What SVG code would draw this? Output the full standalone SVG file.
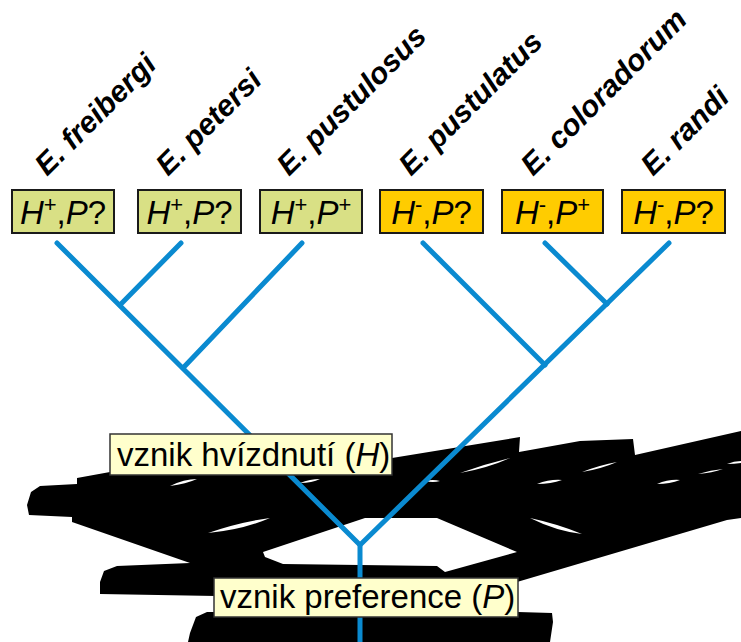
<svg xmlns="http://www.w3.org/2000/svg" width="741" height="642" viewBox="0 0 741 642">
<style>
.sp{font-family:"Liberation Sans",Arial,sans-serif;font-weight:bold;font-style:italic;font-size:30px;fill:#000}
.bx{stroke:#1a1a1a;stroke-width:2}
.g{fill:#D9E085}
.o{fill:#FFCC00}
.bt{font-family:"Liberation Sans",Arial,sans-serif;font-size:33px;fill:#000;text-anchor:middle}
.it{font-style:italic}
.br{fill:none;stroke:#0A8AD0;stroke-width:5;stroke-linecap:round;stroke-linejoin:round}
.lb{fill:#FFFFCC;stroke:#333;stroke-width:1.5}
.lt{font-family:"Liberation Sans",Arial,sans-serif;font-size:33px;fill:#000}
.hole{fill:#fff}
</style>
<rect width="741" height="642" fill="#fff"/>
<g id="background">
<path d="M77,478 L110,472 L392,470 L392,458 L520,437 L519,452 L580,441 L633,439 L635,455 L741,431 L741,518 L727,520 L517,582 L517,590 L518,612 L552,613 L553,622 L550,642 L188,642 L190,633 L196,617 L207,612 L216,612 L216,596 L100,594 L100,582 L104,571 L117,566 L190,563 L72,522 L72,517 L29,515 L27,505 L31,492 L40,486 L77,484 Z" fill="#000"/>
<path class="hole" d="M263,552 L365,518 L437,518 L517,552 L445,572 L437,566 L283,564 L265,557 Z"/>
<path class="hole" d="M170,486 Q184,479 197,479 Q186,484 170,486 Z"/>
<path class="hole" d="M208,533 Q240,522 270,518 Q242,530 208,533 Z"/>
<path class="hole" d="M300,483 Q310,479 320,479 Q312,483 300,483 Z"/>
<path class="hole" d="M425,481 Q433,479 440,481 Q433,483 425,481 Z"/>
<path class="hole" d="M460,473 Q485,464 510,458 Q488,468 460,473 Z"/>
<path class="hole" d="M537,484 Q550,479 562,480 Q551,484 537,484 Z"/>
<path class="hole" d="M582,472 Q600,465 617,462 Q601,469 582,472 Z"/>
<path class="hole" d="M657,484 Q669,479 680,480 Q670,484 657,484 Z"/>
<path class="hole" d="M698,474 Q711,470 723,469 Q712,473 698,474 Z"/>
<path class="hole" d="M727,464 Q734,461 741,461 L741,463 Q734,464 727,464 Z"/>
<path class="hole" d="M530,518 Q558,524 582,534 Q556,531 530,518 Z"/>
</g>
<g id="connectors">
<path class="br" d="M57,243 L360,545 L360,642"/>
<path class="br" d="M181,243 L120,305"/>
<path class="br" d="M302,243 L183,368"/>
<path class="br" d="M669,243 L360,545"/>
<path class="br" d="M423,243 L545,365"/>
<path class="br" d="M545,243 L607,304"/>
</g>
<g id="n1">
<rect class="bx g" x="12" y="190" width="102" height="43"/>
<text class="bt" x="63" y="224"><tspan class="it">H</tspan><tspan dy="-12" font-size="22">+</tspan><tspan dy="12">,</tspan><tspan class="it">P</tspan>?</text>
<text class="sp" x="47" y="177" transform="rotate(-45 47 177)">E. freibergi</text>
</g>
<g id="n2">
<rect class="bx g" x="138" y="190" width="103" height="43"/>
<text class="bt" x="189.5" y="224"><tspan class="it">H</tspan><tspan dy="-12" font-size="22">+</tspan><tspan dy="12">,</tspan><tspan class="it">P</tspan>?</text>
<text class="sp" x="168" y="177" transform="rotate(-45 168 177)">E. petersi</text>
</g>
<g id="n3">
<rect class="bx g" x="260" y="190" width="102" height="43"/>
<text class="bt" x="311" y="224"><tspan class="it">H</tspan><tspan dy="-12" font-size="22">+</tspan><tspan dy="12">,</tspan><tspan class="it">P</tspan><tspan dy="-12" font-size="22">+</tspan></text>
<text class="sp" x="289" y="177" transform="rotate(-45 289 177)">E. pustulosus</text>
</g>
<g id="n4">
<rect class="bx o" x="380" y="190" width="103" height="43"/>
<text class="bt" x="431.5" y="224"><tspan class="it">H</tspan><tspan dy="-12" font-size="22">-</tspan><tspan dy="12">,</tspan><tspan class="it">P</tspan>?</text>
<text class="sp" x="411" y="177" transform="rotate(-45 411 177)">E. pustulatus</text>
</g>
<g id="n5">
<rect class="bx o" x="502" y="190" width="101" height="43"/>
<text class="bt" x="552.5" y="224"><tspan class="it">H</tspan><tspan dy="-12" font-size="22">-</tspan><tspan dy="12">,</tspan><tspan class="it">P</tspan><tspan dy="-12" font-size="22">+</tspan></text>
<text class="sp" x="533" y="177" transform="rotate(-45 533 177)">E. coloradorum</text>
</g>
<g id="n6">
<rect class="bx o" x="622" y="190" width="103" height="43"/>
<text class="bt" x="673.5" y="224"><tspan class="it">H</tspan><tspan dy="-12" font-size="22">-</tspan><tspan dy="12">,</tspan><tspan class="it">P</tspan>?</text>
<text class="sp" x="653" y="177" transform="rotate(-45 653 177)">E. randi</text>
</g>
<g id="labelH">
<rect class="lb" x="110" y="434" width="282" height="41"/>
<text class="lt" x="117" y="466">vznik hvízdnutí (<tspan class="it">H</tspan>)</text>
</g>
<g id="labelP">
<rect class="lb" x="214" y="578" width="304" height="39"/>
<text class="lt" x="220" y="608">vznik preference (<tspan class="it">P</tspan>)</text>
</g>
</svg>
